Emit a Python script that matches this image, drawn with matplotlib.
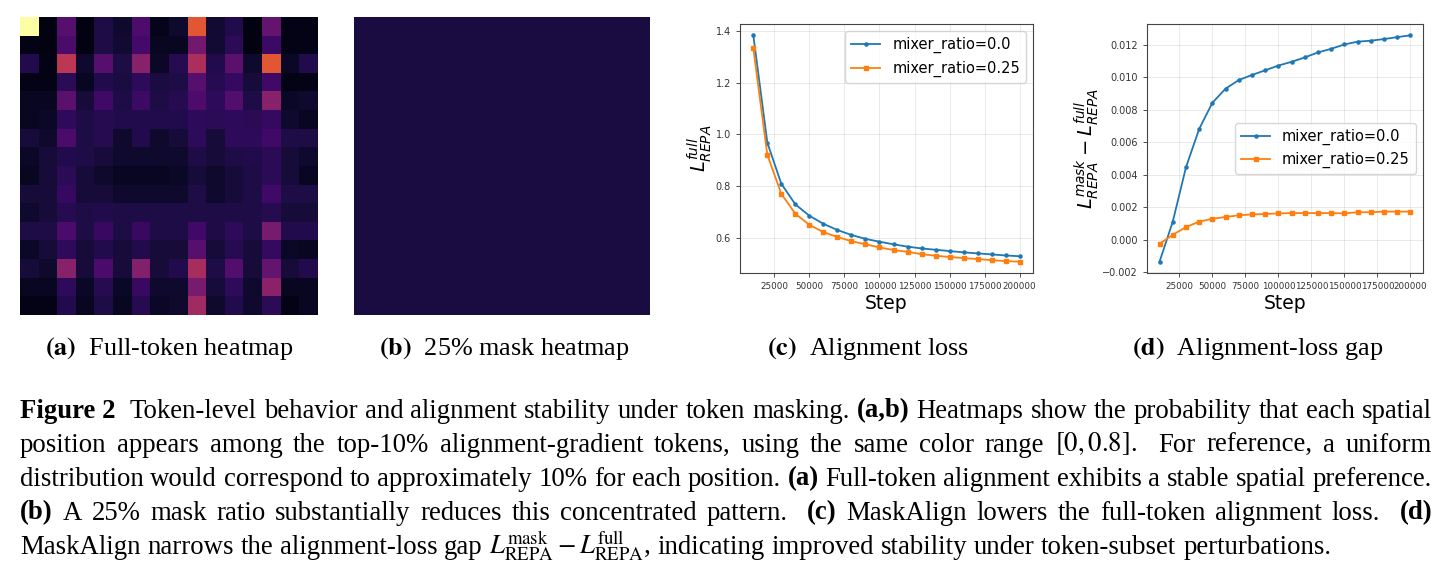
import numpy as np
import matplotlib
matplotlib.use('Agg')
import matplotlib.pyplot as plt

# 그림 크기 (픽셀)
W, H = 1452, 579

# (a) 전체 토큰 히트맵: 각 위치가 top-10% 그래디언트 토큰에 속할 확률
HEAT_FULL = [
    [0.82, 0.024, 0.2, 0.024, 0.096, 0.064, 0.184, 0.04, 0.064, 0.496, 0.072, 0.104, 0.024, 0.224, 0.032, 0.032],
    [0.032, 0.024, 0.176, 0.024, 0.096, 0.072, 0.168, 0.048, 0.048, 0.256, 0.072, 0.12, 0.024, 0.152, 0.032, 0.032],
    [0.104, 0.032, 0.4, 0.064, 0.2, 0.096, 0.296, 0.056, 0.112, 0.368, 0.104, 0.208, 0.064, 0.496, 0.056, 0.104],
    [0.032, 0.032, 0.12, 0.048, 0.104, 0.088, 0.128, 0.088, 0.096, 0.2, 0.112, 0.136, 0.08, 0.16, 0.032, 0.032],
    [0.048, 0.048, 0.208, 0.08, 0.16, 0.096, 0.152, 0.096, 0.112, 0.184, 0.128, 0.192, 0.096, 0.296, 0.056, 0.064],
    [0.048, 0.056, 0.128, 0.096, 0.112, 0.104, 0.104, 0.104, 0.104, 0.128, 0.12, 0.128, 0.12, 0.136, 0.064, 0.048],
    [0.08, 0.064, 0.176, 0.096, 0.112, 0.064, 0.104, 0.064, 0.08, 0.128, 0.08, 0.128, 0.128, 0.16, 0.096, 0.096],
    [0.056, 0.08, 0.104, 0.096, 0.08, 0.064, 0.064, 0.064, 0.064, 0.096, 0.08, 0.096, 0.104, 0.12, 0.08, 0.064],
    [0.048, 0.08, 0.12, 0.08, 0.064, 0.048, 0.048, 0.048, 0.056, 0.08, 0.064, 0.08, 0.096, 0.12, 0.08, 0.048],
    [0.08, 0.08, 0.136, 0.08, 0.08, 0.064, 0.064, 0.064, 0.064, 0.096, 0.064, 0.08, 0.096, 0.16, 0.096, 0.096],
    [0.064, 0.08, 0.112, 0.096, 0.104, 0.096, 0.096, 0.096, 0.096, 0.096, 0.096, 0.096, 0.096, 0.112, 0.08, 0.08],
    [0.096, 0.096, 0.176, 0.096, 0.144, 0.096, 0.144, 0.096, 0.096, 0.16, 0.096, 0.128, 0.096, 0.264, 0.104, 0.104],
    [0.056, 0.08, 0.128, 0.08, 0.104, 0.08, 0.104, 0.08, 0.08, 0.2, 0.08, 0.112, 0.08, 0.136, 0.056, 0.048],
    [0.08, 0.064, 0.296, 0.08, 0.176, 0.08, 0.288, 0.08, 0.104, 0.36, 0.096, 0.192, 0.08, 0.224, 0.08, 0.104],
    [0.048, 0.048, 0.128, 0.056, 0.112, 0.056, 0.144, 0.064, 0.064, 0.264, 0.08, 0.128, 0.064, 0.304, 0.048, 0.048],
    [0.032, 0.032, 0.104, 0.048, 0.096, 0.048, 0.112, 0.056, 0.064, 0.344, 0.064, 0.104, 0.064, 0.12, 0.032, 0.048],
]

# (b) 25% 마스크 히트맵: 거의 균일 (약 9%)
MASK_LEVEL = 0.09
HEAT_MASK = np.full((16, 16), MASK_LEVEL)

# (c), (d) 학습 스텝
STEPS = [10000, 20000, 30000, 40000, 50000, 60000, 70000, 80000, 90000, 100000,
         110000, 120000, 130000, 140000, 150000, 160000, 170000, 180000, 190000, 200000]

# (c) 전체 토큰 정렬 손실
LOSS_R0 = [1.382, 0.968, 0.809, 0.730, 0.686, 0.655, 0.631, 0.612, 0.597, 0.586,
           0.576, 0.567, 0.560, 0.555, 0.550, 0.545, 0.541, 0.537, 0.533, 0.530]
LOSS_R25 = [1.332, 0.921, 0.770, 0.694, 0.651, 0.623, 0.604, 0.588, 0.576, 0.564,
            0.554, 0.547, 0.538, 0.532, 0.527, 0.523, 0.519, 0.515, 0.511, 0.509]

# (d) 마스크 - 전체 손실 차이
GAP_R0 = [-0.00134, 0.00112, 0.00446, 0.00682, 0.00843, 0.00930, 0.00983, 0.01014, 0.01043, 0.01072,
          0.01095, 0.01122, 0.01153, 0.01175, 0.01202, 0.01219, 0.01225, 0.01235, 0.01247, 0.01258]
GAP_R25 = [-0.00024, 0.00031, 0.00079, 0.00112, 0.00130, 0.00141, 0.00151, 0.00157, 0.00159, 0.00163,
           0.00165, 0.00165, 0.00165, 0.00165, 0.00163, 0.00170, 0.00170, 0.00174, 0.00174, 0.00174]

SERIES_LABELS = ['mixer_ratio=0.0', 'mixer_ratio=0.25']

SUB_CAPTIONS = [
    (169, r'$\mathbf{(a)}$  Full-token heatmap'),
    (504, r'$\mathbf{(b)}$  25% mask heatmap'),
    (868, r'$\mathbf{(c)}$  Alignment loss'),
    (1258, r'$\mathbf{(d)}$  Alignment-loss gap'),
]

B, R = True, False


def words(s):
    return [(w, R) for w in s.split()]


CAPTION_LINES = [
    [('Figure 2', B), ('', R)] + words('Token-level behavior and alignment stability under token masking.')
    + [('(a,b)', B)] + words('Heatmaps show the probability that each spatial'),
    words('position appears among the top-10% alignment-gradient tokens, using the same color range')
    + [(r'$[0, 0.8]$.', R), ('', R)] + words('For reference, a uniform'),
    words('distribution would correspond to approximately 10% for each position.')
    + [('(a)', B)] + words('Full-token alignment exhibits a stable spatial preference.'),
    [('(b)', B)] + words('A 25% mask ratio substantially reduces this concentrated pattern.') + [('', R), ('(c)', B)]
    + words('MaskAlign lowers the full-token alignment loss.') + [('', R), ('(d)', B)],
    words('MaskAlign narrows the alignment-loss gap')
    + [(r'$L^{\mathrm{mask}}_{\mathrm{REPA}} - L^{\mathrm{full}}_{\mathrm{REPA}}$,', R)]
    + words('indicating improved stability under token-subset perturbations.'),
]


def px_axes(fig, x0, y0, x1, y1):
    return fig.add_axes([x0 / W, 1 - y1 / H, (x1 - x0) / W, (y1 - y0) / H])


def style_line_ax(ax):
    ax.grid(True, alpha=0.3, linewidth=0.6)
    ax.tick_params(length=3, width=0.6, colors='#333333')
    ax.tick_params(axis='x', labelsize=6.3)
    ax.tick_params(axis='y', labelsize=7)
    for sp in ax.spines.values():
        sp.set_color('#444444')
        sp.set_linewidth(0.8)
    ax.set_xlabel('Step', fontsize=13.5, labelpad=2)


def draw_line(fig, tokens, y_px, x0, x1, size, justify=True):
    renderer = fig.canvas.get_renderer()
    texts = []
    for s, bold in tokens:
        t = fig.text(0, 1 - y_px / H, s, fontsize=size, family='Liberation Serif',
                     weight='bold' if bold else 'normal', va='baseline', ha='left',
                     math_fontfamily='stix')
        texts.append(t)
    widths = [t.get_window_extent(renderer).width if t.get_text() else 0.0 for t in texts]
    space = 0.25 * size * 100 / 72
    if justify:
        gap = (x1 - x0 - sum(widths)) / (len(texts) - 1)
    else:
        gap = space
    x = x0
    for t, w in zip(texts, widths):
        t.set_x(x / W)
        x += w + gap


fig = plt.figure(figsize=(W / 100, H / 100), dpi=100)
fig.patch.set_facecolor('white')

# (a), (b) 히트맵
for data, (x0, x1) in [(HEAT_FULL, (20, 318)), (HEAT_MASK, (354, 650))]:
    ax = px_axes(fig, x0, 17, x1, 315)
    ax.imshow(np.array(data), cmap='inferno', vmin=0, vmax=0.8, aspect='auto',
              interpolation='nearest')
    ax.axis('off')

# (c) 정렬 손실
ax = px_axes(fig, 740, 24, 1033, 273)
ax.plot(STEPS, LOSS_R0, marker='.', ms=4.5, lw=1.3, color='#1f77b4', label=SERIES_LABELS[0])
ax.plot(STEPS, LOSS_R25, marker='s', ms=3, lw=1.3, color='#ff7f0e', label=SERIES_LABELS[1])
style_line_ax(ax)
ax.set_ylabel(r'$L_{REPA}^{full}$', fontsize=14, labelpad=1)
ax.legend(loc='upper right', fontsize=10.5)

# (d) 손실 차이
ax = px_axes(fig, 1147, 24, 1423, 273)
ax.plot(STEPS, GAP_R0, marker='.', ms=4.5, lw=1.3, color='#1f77b4', label=SERIES_LABELS[0])
ax.plot(STEPS, GAP_R25, marker='s', ms=3, lw=1.3, color='#ff7f0e', label=SERIES_LABELS[1])
style_line_ax(ax)
ax.set_ylabel(r'$L_{REPA}^{mask} - L_{REPA}^{full}$', fontsize=14, labelpad=1)
ax.legend(loc='center right', fontsize=10.5)

# 서브 캡션
for cx, s in SUB_CAPTIONS:
    fig.text(cx / W, 1 - 355 / H, s, ha='center', va='baseline', fontsize=18.8,
             family='Liberation Serif', math_fontfamily='stix')

# 그림 캡션 (양쪽 정렬)
for i, toks in enumerate(CAPTION_LINES):
    draw_line(fig, toks, 417.5 + 34 * i, 20, 1432, 19.3, justify=(i < len(CAPTION_LINES) - 1))

fig.savefig('out.png', dpi=100)
